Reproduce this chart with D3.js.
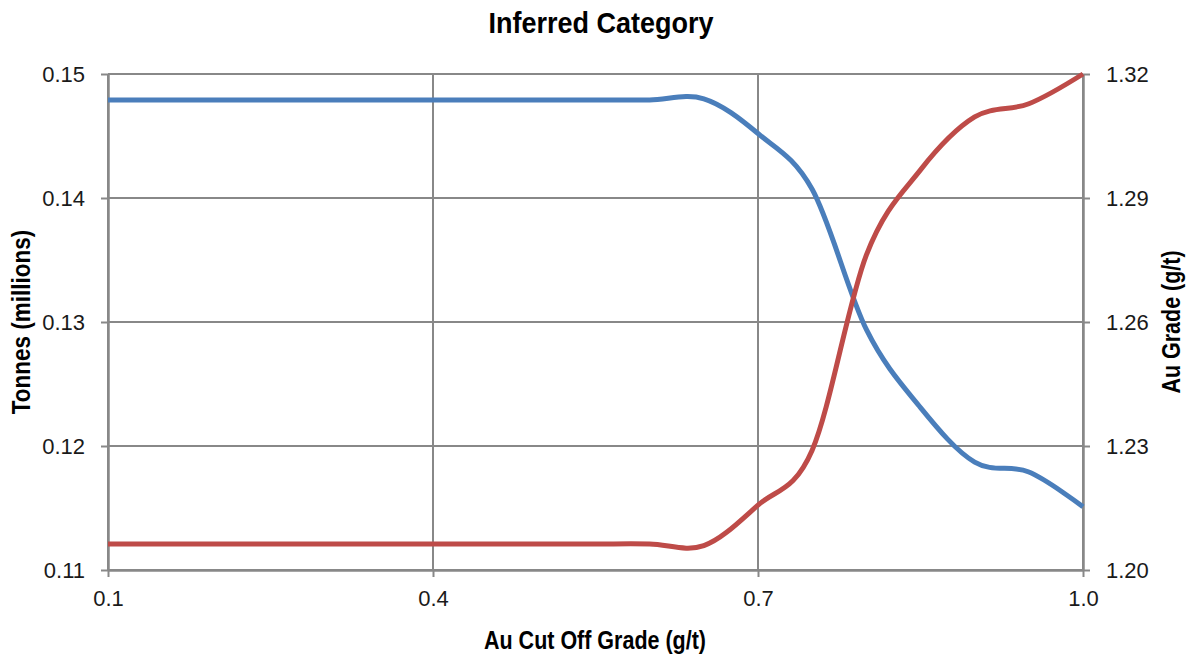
<!DOCTYPE html>
<html>
<head>
<meta charset="utf-8">
<script src="https://cdn.jsdelivr.net/npm/d3@7"></script>
<style>
  html, body { margin: 0; padding: 0; background: #fff; }
  svg { display: block; }
  .tick text { font-family: "Liberation Sans", Arial, sans-serif; font-size: 22px; fill: #1a1a1a; }
  .ttl { font-family: "Liberation Sans Narrow", "Liberation Sans", Arial, sans-serif; font-weight: bold; fill: #000; }
</style>
</head>
<body>
<svg id="chart" width="1191" height="658"></svg>
<script>
// Cut-off grades (g/t)
const cutoff = [0.10, 0.15, 0.20, 0.25, 0.30, 0.35, 0.40, 0.45, 0.50, 0.55,
                0.60, 0.65, 0.70, 0.75, 0.80, 0.85, 0.90, 0.95, 1.00];
// Tonnes above cut-off (millions)
const tonnes = [0.1479, 0.1479, 0.1479, 0.1479, 0.1479, 0.1479, 0.1479, 0.1479, 0.1479, 0.1479,
                0.1479, 0.1480, 0.1452, 0.1407, 0.1294, 0.1231, 0.1187, 0.1179, 0.1151];
// Average Au grade above cut-off (g/t)
const grade = [1.2063, 1.2063, 1.2063, 1.2063, 1.2063, 1.2063, 1.2063, 1.2063, 1.2063, 1.2063,
               1.2063, 1.2059, 1.2157, 1.2290, 1.2762, 1.2968, 1.3096, 1.3128, 1.3200];

const xTicks = [0.1, 0.4, 0.7, 1.0];
const leftTicks = [0.11, 0.12, 0.13, 0.14, 0.15];
const rightTicks = [1.20, 1.23, 1.26, 1.29, 1.32];

const titleText = "Inferred Category";
const xTitle = "Au Cut Off Grade (g/t)";
const leftTitle = "Tonnes (millions)";
const rightTitle = "Au Grade (g/t)";

const svg = d3.select("#chart");
const margin = { left: 108, right: 1083, top: 74, bottom: 570 };

const x = d3.scaleLinear().domain([0.1, 1.0]).range([margin.left, margin.right]);
const yL = d3.scaleLinear().domain([0.11, 0.15]).range([margin.bottom, margin.top]);
const yR = d3.scaleLinear().domain([1.20, 1.32]).range([margin.bottom, margin.top]);

const gridColor = "#888888";

// Horizontal gridlines
svg.append("g").selectAll("line").data(leftTicks).join("line")
  .attr("x1", margin.left).attr("x2", margin.right)
  .attr("y1", d => yL(d)).attr("y2", d => yL(d))
  .attr("stroke", gridColor).attr("stroke-width", 2);

// Vertical gridlines
svg.append("g").selectAll("line").data(xTicks).join("line")
  .attr("x1", d => x(d)).attr("x2", d => x(d))
  .attr("y1", margin.top).attr("y2", margin.bottom)
  .attr("stroke", gridColor).attr("stroke-width", 2);

// Axes
function styleAxis(g) {
  g.select(".domain").attr("stroke", gridColor).attr("stroke-width", 2.5);
  g.selectAll(".tick line").attr("stroke", gridColor).attr("stroke-width", 2);
}

svg.append("g")
  .attr("transform", `translate(0,${margin.bottom})`)
  .call(d3.axisBottom(x).tickValues(xTicks).tickFormat(d3.format(".1f")).tickSize(7).tickSizeOuter(0).tickPadding(13))
  .call(styleAxis)
  .call(g => g.selectAll(".tick text").attr("dy", "0.71em"));

svg.append("g")
  .attr("transform", `translate(${margin.left},0)`)
  .call(d3.axisLeft(yL).tickValues(leftTicks).tickFormat(d3.format(".2f")).tickSize(7).tickSizeOuter(0).tickPadding(16))
  .call(styleAxis);

svg.append("g")
  .attr("transform", `translate(${margin.right},0)`)
  .call(d3.axisRight(yR).tickValues(rightTicks).tickFormat(d3.format(".2f")).tickSize(7).tickSizeOuter(0).tickPadding(16))
  .call(styleAxis);

// Smoothed series lines
const curve = d3.curveCatmullRom.alpha(0);

svg.append("path")
  .datum(cutoff.map((c, i) => [c, tonnes[i]]))
  .attr("fill", "none")
  .attr("stroke", "#4A7EBB")
  .attr("stroke-width", 5)
  .attr("stroke-linejoin", "round")
  .attr("d", d3.line().x(d => x(d[0])).y(d => yL(d[1])).curve(curve));

svg.append("path")
  .datum(cutoff.map((c, i) => [c, grade[i]]))
  .attr("fill", "none")
  .attr("stroke", "#BE4B48")
  .attr("stroke-width", 5)
  .attr("stroke-linejoin", "round")
  .attr("d", d3.line().x(d => x(d[0])).y(d => yR(d[1])).curve(curve));

// Titles, drawn condensed horizontally along their reading direction
function label(text, tx, ty, rot, size, squeeze) {
  svg.append("g")
    .attr("transform", `translate(${tx},${ty}) rotate(${rot}) scale(${squeeze},1)`)
    .append("text").attr("class", "ttl")
    .attr("text-anchor", "middle")
    .style("font-size", size + "px")
    .text(text);
}

label(titleText, 601, 33, 0, 30, 0.9);
label(xTitle, 595, 649, 0, 25, 0.86);
label(leftTitle, 30, 322, -90, 25, 0.9);
label(rightTitle, 1180, 322, -90, 25, 0.86);
</script>
</body>
</html>
